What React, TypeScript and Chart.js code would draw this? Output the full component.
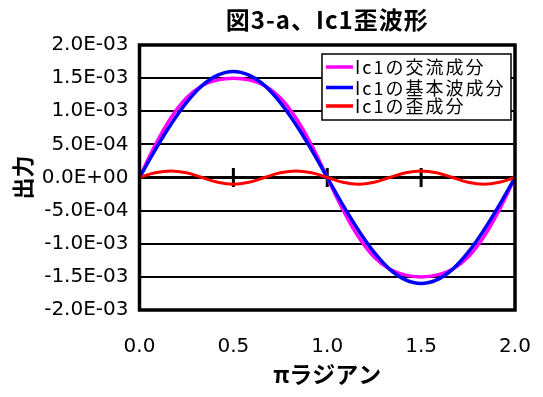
import React, { useEffect, useRef } from "react";
import { Chart, registerables } from "chart.js";

Chart.register(...registerables);

// ---- data ----
const chartTitle = "図3-a、Ic1歪波形";
const xAxisTitle = "πラジアン";
const yAxisTitle = "出力";
const seriesLabels = ["Ic1の交流成分", "Ic1の基本波成分", "Ic1の歪成分"];
const seriesColors = ["#FF00FF", "#0000FF", "#FF0000"];

// x in units of π radians
const xValues = [
  0, 0.083, 0.167, 0.25, 0.333, 0.417, 0.5, 0.583, 0.667, 0.75, 0.833, 0.917,
  1.0, 1.083, 1.167, 1.25, 1.333, 1.417, 1.5, 1.583, 1.667, 1.75, 1.833, 1.917, 2.0,
];
const acComponent = [
  0, 4.85e-4, 9.0e-4, 1.202e-3, 1.386e-3, 1.474e-3, 1.5e-3, 1.474e-3, 1.386e-3, 1.202e-3, 9.0e-4, 4.85e-4,
  0, -4.85e-4, -9.0e-4, -1.202e-3, -1.386e-3, -1.474e-3, -1.5e-3, -1.474e-3, -1.386e-3, -1.202e-3, -9.0e-4, -4.85e-4, 0,
];
const fundamental = [
  0, 4.14e-4, 8.0e-4, 1.131e-3, 1.386e-3, 1.545e-3, 1.6e-3, 1.545e-3, 1.386e-3, 1.131e-3, 8.0e-4, 4.14e-4,
  0, -4.14e-4, -8.0e-4, -1.131e-3, -1.386e-3, -1.545e-3, -1.6e-3, -1.545e-3, -1.386e-3, -1.131e-3, -8.0e-4, -4.14e-4, 0,
];
const distortion = [
  0, 7.1e-5, 1.0e-4, 7.1e-5, 0, -7.1e-5, -1.0e-4, -7.1e-5, 0, 7.1e-5, 1.0e-4, 7.1e-5,
  0, -7.1e-5, -1.0e-4, -7.1e-5, 0, 7.1e-5, 1.0e-4, 7.1e-5, 0, -7.1e-5, -1.0e-4, -7.1e-5, 0,
];
const seriesValues = [acComponent, fundamental, distortion];

const xTickValues = [0, 0.5, 1.0, 1.5, 2.0];
const yMin = -0.002;
const yMax = 0.002;
const yStep = 0.0005;

// ---- helpers ----
function formatExp(v: number): string {
  if (Math.abs(v) < 1e-12) v = 0;
  const [m, e] = v.toExponential(1).split("e");
  const n = parseInt(e, 10);
  return m + "E" + (n < 0 ? "-" : "+") + String(Math.abs(n)).padStart(2, "0");
}

const JP = '"Noto Sans CJK JP", "Noto Sans CJK SC", sans-serif';

const titlePlugin = {
  id: "customTitle",
  afterDraw(chart: any) {
    const { ctx, chartArea } = chart;
    ctx.save();
    ctx.font = `bold 24px ${JP}`;
    ctx.fillStyle = "#000";
    ctx.textAlign = "center";
    ctx.textBaseline = "middle";
    ctx.letterSpacing = "1px";
    ctx.fillText(chartTitle, (chartArea.left + chartArea.right) / 2, 12);
    ctx.restore();
  },
};

const zeroTicksPlugin = {
  id: "zeroTicks",
  beforeDatasetsDraw(chart: any) {
    const { ctx, scales } = chart;
    const y0 = scales.y.getPixelForValue(0);
    ctx.save();
    ctx.strokeStyle = "#000";
    ctx.lineWidth = 3;
    for (const v of xTickValues.slice(1, -1)) {
      const x = scales.x.getPixelForValue(v);
      ctx.beginPath();
      ctx.moveTo(x, y0 - 9.5);
      ctx.lineTo(x, y0 + 9.5);
      ctx.stroke();
    }
    ctx.restore();
  },
};

const frameAndLegendPlugin = {
  id: "frameAndLegend",
  afterDatasetsDraw(chart: any) {
    const { ctx, chartArea } = chart;
    ctx.save();
    ctx.strokeStyle = "#000";
    ctx.lineWidth = 3.5;
    ctx.strokeRect(chartArea.left, chartArea.top, chartArea.right - chartArea.left, chartArea.bottom - chartArea.top);

    // legend box inside plot area (top right)
    const bx = chartArea.right - 193;
    const by = chartArea.top + 9;
    const bw = 189;
    const bh = 66;
    ctx.fillStyle = "#fff";
    ctx.fillRect(bx, by, bw, bh);
    ctx.lineWidth = 1.5;
    ctx.strokeRect(bx, by, bw, bh);
    const rows = [13, 33.5, 52];
    ctx.font = `18px ${JP}`;
    ctx.letterSpacing = "2px";
    ctx.textAlign = "left";
    ctx.textBaseline = "middle";
    chart.data.datasets.forEach((ds: any, i: number) => {
      const y = by + rows[i];
      ctx.strokeStyle = ds.borderColor;
      ctx.lineWidth = 3.5;
      ctx.beginPath();
      ctx.moveTo(bx + 4, y);
      ctx.lineTo(bx + 31, y);
      ctx.stroke();
      ctx.fillStyle = "#000";
      ctx.fillText(ds.label, bx + 33, y + 0.5);
    });
    ctx.restore();
  },
};

export default function App() {
  const canvasRef = useRef<HTMLCanvasElement | null>(null);

  useEffect(() => {
    const canvas = canvasRef.current;
    if (!canvas) return;
    const datasets = seriesValues.map((vals, i) => ({
      label: seriesLabels[i],
      data: xValues.map((x, j) => ({ x, y: vals[j] })),
      borderColor: seriesColors[i],
      backgroundColor: seriesColors[i],
      borderWidth: i === 2 ? 3 : 3.5,
      pointRadius: 0,
      tension: 0.4,
      fill: false,
      order: 3 - i,
    }));

    const chart = new Chart(canvas, {
      type: "line",
      data: { datasets },
      options: {
        responsive: false,
        animation: false,
        layout: { padding: { top: 37, right: 20, left: 0, bottom: 0 } },
        plugins: {
          legend: { display: false },
          title: { display: false },
          tooltip: { enabled: false },
        },
        scales: {
          x: {
            type: "linear",
            min: 0,
            max: 2,
            afterFit: (s: any) => {
              s.height = 79;
              s.paddingLeft = 0;
              s.paddingRight = 0;
            },
            afterBuildTicks: (s: any) => {
              s.ticks = xTickValues.map((v) => ({ value: v }));
            },
            ticks: {
              color: "#000",
              font: { family: "DejaVu Sans", size: 20 },
              padding: 25,
              autoSkip: false,
              maxRotation: 0,
              callback: (v: any) => Number(v).toFixed(1),
            },
            grid: { display: false, drawTicks: false },
            border: { display: false },
            title: {
              display: true,
              text: xAxisTitle,
              color: "#000",
              font: { family: JP, size: 23, weight: "bold" },
              padding: { top: 0, bottom: 1 },
            },
          },
          y: {
            type: "linear",
            min: yMin,
            max: yMax,
            afterFit: (s: any) => {
              s.width = 131.5;
              s.paddingTop = 0;
              s.paddingBottom = 0;
            },
            ticks: {
              stepSize: yStep,
              color: "#000",
              font: { family: "DejaVu Sans", size: 20 },
              padding: 11,
              callback: (v: any) => formatExp(Number(v)),
            },
            grid: {
              color: "#000",
              lineWidth: (c: any) => (c.tick && Math.abs(c.tick.value) < 1e-12 ? 3 : 2),
              drawTicks: false,
            },
            border: { display: false },
            title: {
              display: true,
              text: yAxisTitle,
              color: "#000",
              font: { family: JP, size: 22, weight: "bold" },
              padding: { top: 1, bottom: 0 },
            },
          },
        },
      },
      plugins: [zeroTicksPlugin, frameAndLegendPlugin, titlePlugin],
    });
    return () => chart.destroy();
  }, []);

  return (
    <div style={{ width: 527, height: 381 }}>
      <canvas ref={canvasRef} width={527} height={381} />
    </div>
  );
}
